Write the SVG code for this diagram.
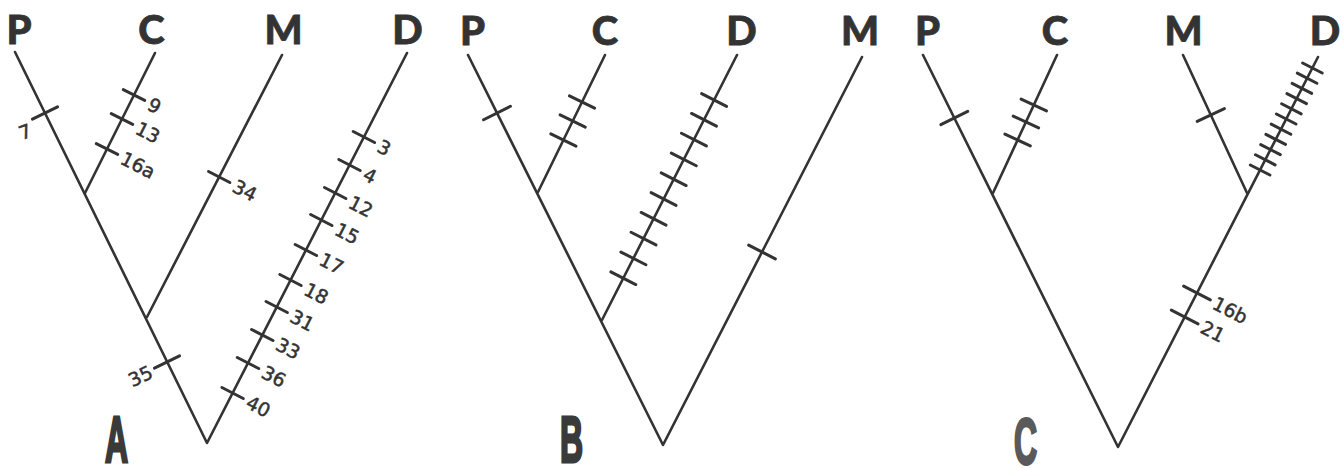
<svg xmlns="http://www.w3.org/2000/svg" width="1344" height="469" viewBox="0 0 1344 469">
<style>
.br{stroke:#333;stroke-width:2.6;fill:none;stroke-linecap:round;stroke-linejoin:round}
.tk{stroke:#333;stroke-width:3;stroke-linecap:round}
.tax{font-family:Lato,"Open Sans","DejaVu Sans",sans-serif;font-weight:900;font-size:40px;fill:#333;stroke:#333;stroke-width:0.8;text-anchor:middle}
.num{font-family:"DejaVu Sans","Noto Sans",sans-serif;font-size:19px;fill:#333;stroke:#333;stroke-width:0.5}
.numE{font-family:"DejaVu Sans","Noto Sans",sans-serif;font-size:19px;fill:#333;stroke:#333;stroke-width:0.5;text-anchor:end}
.big{font-family:"Liberation Sans",Arial,sans-serif;font-weight:bold;font-size:64px;fill:#3a3a3a;stroke:#3a3a3a;stroke-width:3;text-anchor:middle}
</style>
<rect width="1344" height="469" fill="#fff"/>

<!-- Tree A -->
<g id="treeA">
  <g id="A-P"><text class="tax" x="19" y="44">P</text></g>
  <g id="A-C"><text class="tax" x="151.5" y="44">C</text></g>
  <g id="A-M"><text class="tax" x="283.5" y="44">M</text></g>
  <g id="A-D"><text class="tax" x="407.5" y="44">D</text></g>
  <g id="A-label"><text class="big" transform="translate(116.5,462) scale(0.5,1)">A</text></g>
</g>
<g id="connectorsA">
  <polyline class="br" points="15,52 207,443 407,53"/>
  <line class="br" x1="155" y1="53" x2="85" y2="193"/>
  <line class="br" x1="282" y1="55" x2="147" y2="317"/>
  <line class="tk" x1="-14" y1="0" x2="14" y2="0" transform="translate(45,113) rotate(-26.2)"/>
  <line class="tk" x1="-14" y1="0" x2="14" y2="0" transform="translate(167,362) rotate(-26.2)"/>
  <line class="tk" x1="-12" y1="0" x2="12" y2="0" transform="translate(134,95) rotate(26.6)"/>
  <line class="tk" x1="-12" y1="0" x2="12" y2="0" transform="translate(122,119) rotate(26.6)"/>
  <line class="tk" x1="-12" y1="0" x2="12" y2="0" transform="translate(107,149) rotate(26.6)"/>
  <line class="tk" x1="-12" y1="0" x2="12" y2="0" transform="translate(219.2,177) rotate(27.3)"/>
  <line class="tk" x1="-12" y1="0" x2="12" y2="0" transform="translate(363.9,137) rotate(27.1)"/>
  <line class="tk" x1="-12" y1="0" x2="12" y2="0" transform="translate(349.5,165) rotate(27.1)"/>
  <line class="tk" x1="-12" y1="0" x2="12" y2="0" transform="translate(335.2,193) rotate(27.1)"/>
  <line class="tk" x1="-12" y1="0" x2="12" y2="0" transform="translate(321.3,220) rotate(27.1)"/>
  <line class="tk" x1="-12" y1="0" x2="12" y2="0" transform="translate(305.9,250) rotate(27.1)"/>
  <line class="tk" x1="-12" y1="0" x2="12" y2="0" transform="translate(290.5,280) rotate(27.1)"/>
  <line class="tk" x1="-12" y1="0" x2="12" y2="0" transform="translate(276.7,307) rotate(27.1)"/>
  <line class="tk" x1="-12" y1="0" x2="12" y2="0" transform="translate(262.3,335) rotate(27.1)"/>
  <line class="tk" x1="-12" y1="0" x2="12" y2="0" transform="translate(248,363) rotate(27.1)"/>
  <line class="tk" x1="-12" y1="0" x2="12" y2="0" transform="translate(232.6,393) rotate(27.1)"/>
</g>
<g id="labelsA">
  <text class="numE" transform="translate(33,136) rotate(-20)">7</text>
  <text class="numE" transform="translate(154.3,377) rotate(-26)">35</text>
  <text class="num" transform="translate(146,109) rotate(27)">9</text>
  <text class="num" transform="translate(134,133) rotate(27)">13</text>
  <text class="num" transform="translate(119,163) rotate(27)">16a</text>
  <text class="num" transform="translate(231,191) rotate(27)">34</text>
  <text class="num" transform="translate(375.8,151) rotate(27)">3</text>
  <text class="num" transform="translate(361.4,179) rotate(27)">4</text>
  <text class="num" transform="translate(347.1,207) rotate(27)">12</text>
  <text class="num" transform="translate(333.2,234) rotate(27)">15</text>
  <text class="num" transform="translate(317.8,264) rotate(27)">17</text>
  <text class="num" transform="translate(302.4,294) rotate(27)">18</text>
  <text class="num" transform="translate(288.6,321) rotate(27)">31</text>
  <text class="num" transform="translate(274.2,349) rotate(27)">33</text>
  <text class="num" transform="translate(259.9,377) rotate(27)">36</text>
  <text class="num" transform="translate(244.5,407) rotate(27)">40</text>
</g>

<!-- Tree B -->
<g id="treeB">
  <g id="B-P"><text class="tax" x="472.5" y="45">P</text></g>
  <g id="B-C"><text class="tax" x="605" y="45">C</text></g>
  <g id="B-D"><text class="tax" x="741.5" y="45">D</text></g>
  <g id="B-M"><text class="tax" x="860" y="45">M</text></g>
  <g id="B-label"><text class="big" transform="translate(571.5,462) scale(0.5,1)">B</text></g>
</g>
<g id="connectorsB">
  <polyline class="br" points="468,55 663,445 862,57"/>
  <line class="br" x1="605" y1="55" x2="538" y2="192"/>
  <line class="br" x1="737" y1="55" x2="602" y2="320"/>
  <line class="tk" x1="-15" y1="0" x2="15" y2="0" transform="translate(497,113) rotate(-26.6)"/>
  <line class="tk" x1="-14" y1="0" x2="14" y2="0" transform="translate(582,102) rotate(26)"/>
  <line class="tk" x1="-14" y1="0" x2="14" y2="0" transform="translate(572.7,121) rotate(26)"/>
  <line class="tk" x1="-14" y1="0" x2="14" y2="0" transform="translate(563.4,140) rotate(26)"/>
  <line class="tk" x1="-14" y1="0" x2="14" y2="0" transform="translate(714.1,100) rotate(27)"/>
  <line class="tk" x1="-14" y1="0" x2="14" y2="0" transform="translate(704,119.8) rotate(27)"/>
  <line class="tk" x1="-14" y1="0" x2="14" y2="0" transform="translate(693.9,139.6) rotate(27)"/>
  <line class="tk" x1="-14" y1="0" x2="14" y2="0" transform="translate(683.8,159.4) rotate(27)"/>
  <line class="tk" x1="-14" y1="0" x2="14" y2="0" transform="translate(673.7,179.2) rotate(27)"/>
  <line class="tk" x1="-14" y1="0" x2="14" y2="0" transform="translate(663.6,199) rotate(27)"/>
  <line class="tk" x1="-14" y1="0" x2="14" y2="0" transform="translate(653.6,218.8) rotate(27)"/>
  <line class="tk" x1="-14" y1="0" x2="14" y2="0" transform="translate(643.5,238.6) rotate(27)"/>
  <line class="tk" x1="-14" y1="0" x2="14" y2="0" transform="translate(633.4,258.4) rotate(27)"/>
  <line class="tk" x1="-14" y1="0" x2="14" y2="0" transform="translate(623.3,278.2) rotate(27)"/>
  <line class="tk" x1="-15" y1="0" x2="15" y2="0" transform="translate(762,252) rotate(27.1)"/>
</g>

<!-- Tree C -->
<g id="treeC">
  <g id="C-P"><text class="tax" x="927.5" y="45">P</text></g>
  <g id="C-C"><text class="tax" x="1055" y="45">C</text></g>
  <g id="C-M"><text class="tax" x="1183.5" y="45">M</text></g>
  <g id="C-D"><text class="tax" x="1325" y="45">D</text></g>
  <g id="C-label"><text class="big" style="fill:#5a5a5a;stroke:#5a5a5a" transform="translate(1025.5,464) scale(0.5,1)">C</text></g>
</g>
<g id="connectorsC">
  <polyline class="br" points="923,55 1118,447 1318,57"/>
  <line class="br" x1="1057" y1="55" x2="993" y2="193"/>
  <line class="br" x1="1183" y1="55" x2="1247" y2="193"/>
  <line class="tk" x1="-15" y1="0" x2="15" y2="0" transform="translate(954.3,118) rotate(-26.4)"/>
  <line class="tk" x1="-14" y1="0" x2="14" y2="0" transform="translate(1033.8,105) rotate(24.9)"/>
  <line class="tk" x1="-14" y1="0" x2="14" y2="0" transform="translate(1025.9,122) rotate(24.9)"/>
  <line class="tk" x1="-14" y1="0" x2="14" y2="0" transform="translate(1017.6,140) rotate(24.9)"/>
  <line class="tk" x1="-15" y1="0" x2="15" y2="0" transform="translate(1210.8,115) rotate(-24.9)"/>
  <line class="tk" x1="-11" y1="0" x2="11" y2="0" transform="translate(1312.4,68) rotate(27.1)"/>
  <line class="tk" x1="-11" y1="0" x2="11" y2="0" transform="translate(1307.1,78.2) rotate(27.1)"/>
  <line class="tk" x1="-11" y1="0" x2="11" y2="0" transform="translate(1301.9,88.4) rotate(27.1)"/>
  <line class="tk" x1="-11" y1="0" x2="11" y2="0" transform="translate(1296.7,98.6) rotate(27.1)"/>
  <line class="tk" x1="-11" y1="0" x2="11" y2="0" transform="translate(1291.4,108.8) rotate(27.1)"/>
  <line class="tk" x1="-11" y1="0" x2="11" y2="0" transform="translate(1286.2,119) rotate(27.1)"/>
  <line class="tk" x1="-11" y1="0" x2="11" y2="0" transform="translate(1281,129.2) rotate(27.1)"/>
  <line class="tk" x1="-11" y1="0" x2="11" y2="0" transform="translate(1275.7,139.4) rotate(27.1)"/>
  <line class="tk" x1="-11" y1="0" x2="11" y2="0" transform="translate(1270.5,149.6) rotate(27.1)"/>
  <line class="tk" x1="-11" y1="0" x2="11" y2="0" transform="translate(1265.3,159.8) rotate(27.1)"/>
  <line class="tk" x1="-11" y1="0" x2="11" y2="0" transform="translate(1260.1,170) rotate(27.1)"/>
  <line class="tk" x1="-15" y1="0" x2="15" y2="0" transform="translate(1197,293) rotate(27.1)"/>
  <line class="tk" x1="-15" y1="0" x2="15" y2="0" transform="translate(1184.7,317) rotate(27.1)"/>
</g>
<g id="labelsC">
  <text class="num" transform="translate(1211,308) rotate(27)">16b</text>
  <text class="num" transform="translate(1199,332) rotate(27)">21</text>
</g>
</svg>
